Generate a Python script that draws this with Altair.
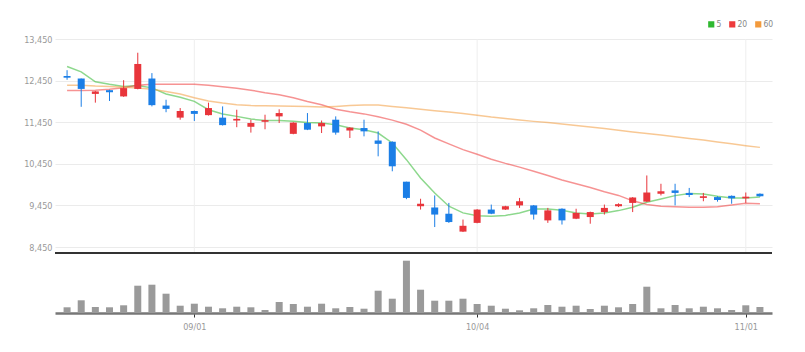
import altair as alt
import pandas as pd

dates = ["08/21", "08/22", "08/23", "08/24", "08/25", "08/28", "08/29", "08/30", "08/31",
         "09/01", "09/04", "09/05", "09/06", "09/07", "09/08", "09/11", "09/12", "09/13",
         "09/14", "09/15", "09/18", "09/19", "09/20", "09/21", "09/22", "09/25", "09/26",
         "09/27", "10/02", "10/04", "10/05", "10/06", "10/10", "10/11", "10/12", "10/13",
         "10/16", "10/17", "10/18", "10/19", "10/20", "10/23", "10/24", "10/25", "10/26",
         "10/27", "10/30", "10/31", "11/01", "11/02"]
opens = [12560, 12500, 12130, 12220, 12070, 12250, 12500, 11850, 11560, 11720,
         11620, 11560, 11490, 11340, 11460, 11590, 11170, 11430, 11350, 11510,
         11250, 11310, 11010, 10980, 10020, 9430, 9400, 9250, 8820, 9030,
         9350, 9350, 9450, 9450, 9090, 9370, 9130, 9170, 9290, 9430,
         9510, 9540, 9730, 9810, 9750, 9630, 9650, 9680, 9620, 9730]
closes = [12520, 12250, 12190, 12170, 12270, 12850, 11860, 11770, 11720, 11650,
          11790, 11380, 11530, 11430, 11500, 11670, 11440, 11270, 11430, 11200,
          11320, 11230, 10930, 10390, 9630, 9490, 9230, 9050, 8960, 9350,
          9250, 9430, 9550, 9230, 9330, 9090, 9270, 9290, 9390, 9480,
          9640, 9760, 9790, 9750, 9700, 9670, 9580, 9620, 9660, 9670]
highs = [12700, 12500, 12200, 12230, 12460, 13120, 12630, 11990, 11790, 11730,
         11920, 11830, 11750, 11510, 11630, 11760, 11450, 11670, 11490, 11590,
         11330, 11510, 11230, 10990, 10020, 9610, 9690, 9510, 9110, 9360,
         9470, 9440, 9630, 9460, 9390, 9380, 9370, 9300, 9470, 9500,
         9650, 10170, 9970, 9970, 9870, 9750, 9670, 9690, 9760, 9740]
lows = [12470, 11820, 11920, 11960, 12060, 12240, 11830, 11690, 11510, 11480,
        11610, 11370, 11330, 11200, 11280, 11430, 11160, 11260, 11190, 11150,
        11070, 11110, 10630, 10270, 9600, 9350, 8930, 9030, 8810, 9020,
        9240, 9340, 9390, 9110, 9030, 8990, 9120, 9010, 9230, 9410,
        9290, 9530, 9690, 9450, 9650, 9550, 9540, 9490, 9510, 9660]
ma5 = [12790, 12660, 12420, 12360, 12310, 12330, 12275, 12130, 12050, 11950,
       11750, 11645, 11590, 11525, 11490, 11490, 11470, 11445, 11430, 11390,
       11310, 11270, 11190, 10950, 10550, 10110, 9750, 9430, 9270, 9200,
       9190, 9210, 9270, 9365, 9365, 9335, 9270, 9245, 9270, 9325,
       9405, 9525, 9605, 9685, 9735, 9725, 9670, 9630, 9630, 9655]
ma20 = [12210, 12210, 12220, 12240, 12280, 12340, 12360, 12365, 12365, 12360,
        12340, 12300, 12265, 12220, 12160, 12110, 12040, 11950, 11870, 11760,
        11700, 11650, 11580, 11500, 11400, 11260, 11070, 10930, 10790, 10680,
        10560, 10460, 10370, 10270, 10170, 10060, 9970, 9880, 9780, 9690,
        9560, 9470, 9430, 9415, 9405, 9405, 9420, 9460, 9500, 9490]
ma60 = [12340, 12340, 12320, 12310, 12290, 12270, 12240, 12190, 12130, 12040,
        11960, 11910, 11870, 11850, 11843, 11840, 11835, 11825, 11815, 11830,
        11850, 11865, 11865, 11830, 11800, 11760, 11725, 11695, 11660, 11620,
        11575, 11540, 11505, 11470, 11440, 11405, 11370, 11335, 11300, 11255,
        11215, 11180, 11140, 11100, 11060, 11020, 10975, 10930, 10885, 10845]
volumes = [57000, 127000, 60000, 57000, 77000, 273000, 283000, 193000, 73000, 93000,
           63000, 47000, 63000, 57000, 30000, 110000, 90000, 63000, 93000, 47000,
           60000, 43000, 223000, 143000, 523000, 233000, 123000, 123000, 143000, 90000,
           73000, 43000, 27000, 47000, 80000, 63000, 73000, 40000, 73000, 57000,
           90000, 263000, 47000, 80000, 47000, 63000, 47000, 30000, 77000, 60000]
y_ticks = [8450, 9450, 10450, 11450, 12450, 13450]
x_tick_idx = [9, 29, 48]
ma_names = ["5", "20", "60"]

FONT = "Liberation Sans Narrow, DejaVu Sans Condensed, Liberation Sans, sans-serif"
UP, DOWN = "#e8353b", "#1b7ee6"
PRICE_H, VOL_H, W = 214, 60, 717
H = PRICE_H + VOL_H

n = len(dates)
df = pd.DataFrame({"i": list(range(n)), "date": dates, "open": opens, "close": closes,
                   "high": highs, "low": lows, "volume": volumes})
df["dir"] = ["up" if c >= o else "down" for o, c in zip(opens, closes)]

ma_rows = []
for name, arr in zip(ma_names, [ma5, ma20, ma60]):
    for i, v in enumerate(arr):
        ma_rows.append({"i": i, "ma": name, "value": v})
ma_df = pd.DataFrame(ma_rows)
grid_df = pd.DataFrame({"i": x_tick_idx})

label_expr = "[" + ",".join("'%s'" % d for d in dates) + "][datum.value]"
xscale = alt.Scale(domain=[-0.5, n - 0.5], nice=False, zero=False)
pscale = alt.Scale(domain=[8306, 13450], nice=False, zero=False, range=[PRICE_H, 0])
vscale = alt.Scale(domain=[0, 600000], nice=False, zero=False, range=[H, PRICE_H])
dir_color = alt.Color("dir:N", scale=alt.Scale(domain=["up", "down"], range=[UP, DOWN]), legend=None)

x_axis = alt.Axis(values=x_tick_idx, labelExpr=label_expr, grid=False,
                  domainColor="#777", domainWidth=2.5, tickColor="#333", tickSize=4,
                  labelColor="#999", labelFontSize=9, labelFont=FONT,
                  labelPadding=5, title=None)
y_axis = alt.Axis(values=y_ticks, format=",.0f", labelColor="#999", labelFontSize=9,
                  labelFont=FONT, domain=False, ticks=False, grid=True, gridColor="#ebebeb",
                  labelPadding=3, title=None)

vgrid = alt.Chart(grid_df).mark_rule(color="#eeeeee", strokeWidth=1).encode(
    x=alt.X("i:Q", scale=xscale, axis=x_axis),
    y=alt.value(0), y2=alt.value(PRICE_H))

lines = alt.Chart(ma_df).mark_line(strokeWidth=1.5, opacity=0.55).encode(
    x=alt.X("i:Q", scale=xscale),
    y=alt.Y("value:Q", scale=pscale, axis=y_axis),
    stroke=alt.Stroke("ma:N", sort=ma_names,
                      scale=alt.Scale(domain=ma_names, range=["#2fb82f", "#ee3a3a", "#f39a3c"]),
                      legend=alt.Legend(orient="none", legendX=652, legendY=-19,
                                        direction="horizontal", title=None,
                                        symbolType="square", symbolSize=10,
                                        symbolStrokeWidth=3, symbolOpacity=1,
                                        labelFontSize=8.5, labelFont=FONT, labelColor="#888",
                                        labelOffset=1, columnPadding=2)),
    detail="ma:N")

base = alt.Chart(df)
wicks = base.mark_rule(strokeWidth=1).encode(
    x="i:Q", y=alt.Y("low:Q", scale=pscale), y2="high:Q", color=dir_color)
bodies = base.mark_bar(size=7).encode(
    x="i:Q", y=alt.Y("open:Q", scale=pscale), y2="close:Q", color=dir_color)
sep = base.mark_rule(color="#333", strokeWidth=2).encode(
    x=alt.value(0), x2=alt.value(W), y=alt.value(PRICE_H))

price = alt.layer(vgrid, lines, wicks, bodies, sep)

vol = base.mark_bar(size=7, color="#9a9a9a").encode(
    x="i:Q",
    y=alt.Y("volume:Q", scale=vscale, axis=None),
    y2=alt.Y2(datum=0))

chart = alt.layer(price, vol).resolve_scale(y="independent").properties(
    width=W, height=H,
    autosize=alt.AutoSizeParams(type="none"),
    padding={"left": 55, "top": 39, "right": 33, "bottom": 39},
).configure_view(stroke=None)

chart.save("out.html", embed_options={"renderer": "svg", "actions": False})
